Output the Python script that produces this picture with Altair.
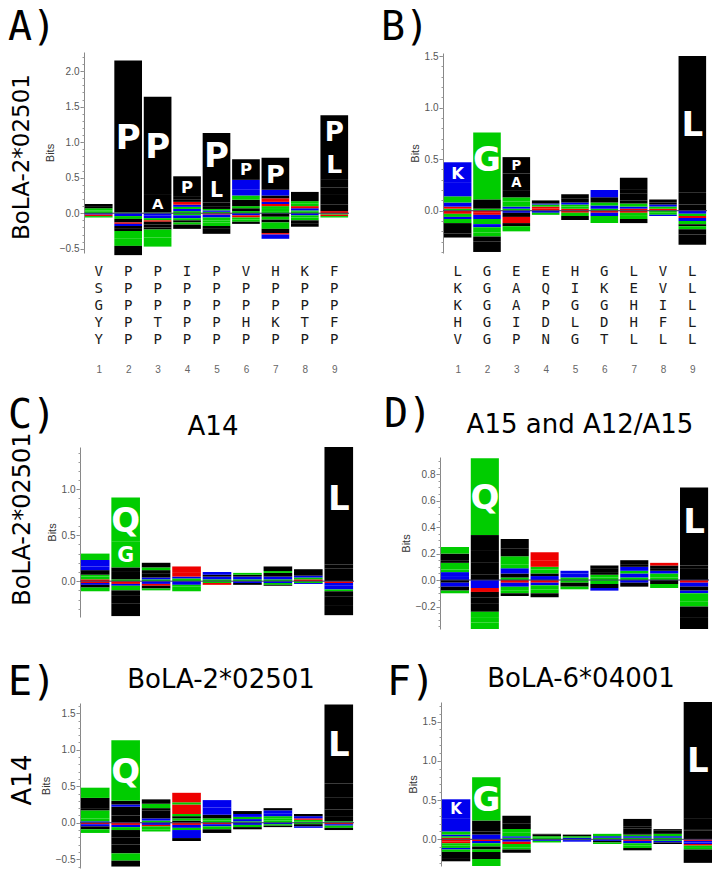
import altair as alt
import pandas as pd
import numpy as np

POS = list(range(1, 10))

# ---------------- logo data (bits); UP: stacked from 0 upward, DOWN: stacked from 0 downward
A_UP = [
    [("S", 0.02), ("T", 0.02), ("G", 0.03), ("L", 0.03), ("I", 0.03)],
    [("S", 0.01), ("P", 2.14)],
    [("S", 0.01), ("A", 0.26), ("P", 1.37)],
    [("G", 0.03), ("K", 0.03), ("T", 0.03), ("H", 0.03), ("E", 0.04), ("I", 0.03), ("L", 0.04), ("P", 0.29)],
    [("S", 0.02), ("K", 0.02), ("G", 0.02), ("V", 0.03), ("I", 0.06), ("L", 0.36), ("P", 0.62)],
    [("T", 0.03), ("I", 0.04), ("G", 0.03), ("V", 0.09), ("Q", 0.06), ("R", 0.08), ("K", 0.14), ("P", 0.29)],
    [("G", 0.03), ("S", 0.03), ("T", 0.04), ("E", 0.03), ("K", 0.03), ("E", 0.05), ("V", 0.04), ("H", 0.08), ("P", 0.45)],
    [("S", 0.02), ("G", 0.02), ("K", 0.03), ("E", 0.03), ("T", 0.04), ("G", 0.03), ("P", 0.13)],
    [("E", 0.03), ("F", 0.09), ("M", 0.15), ("V", 0.09), ("I", 0.12), ("L", 0.44), ("P", 0.46)],
]
A_DOWN = [
    [("K", 0.02), ("E", 0.02), ("S", 0.02)],
    [("K", 0.04), ("T", 0.04), ("V", 0.05), ("E", 0.02), ("H", 0.03), ("I", 0.03), ("L", 0.04), ("S", 0.11), ("G", 0.10), ("A", 0.13)],
    [("K", 0.03), ("H", 0.04), ("T", 0.03), ("E", 0.02), ("V", 0.04), ("I", 0.04), ("L", 0.03), ("G", 0.11), ("S", 0.13)],
    [("S", 0.03), ("K", 0.04), ("G", 0.03), ("V", 0.03), ("T", 0.03), ("Y", 0.06)],
    [("E", 0.02), ("K", 0.04), ("S", 0.04), ("T", 0.03), ("G", 0.05), ("L", 0.03), ("Y", 0.08)],
    [("K", 0.03), ("E", 0.03), ("G", 0.03), ("S", 0.03), ("L", 0.03)],
    [("V", 0.05), ("T", 0.04), ("L", 0.04), ("S", 0.05), ("G", 0.04), ("I", 0.06), ("E", 0.02), ("K", 0.06)],
    [("K", 0.03), ("S", 0.03), ("G", 0.04), ("V", 0.04), ("Y", 0.05)],
    [("G", 0.02), ("E", 0.02), ("S", 0.02)],
]

B_UP = [
    [("T", 0.02), ("E", 0.02), ("H", 0.04), ("S", 0.06), ("R", 0.13), ("K", 0.20)],
    [("T", 0.02), ("P", 0.09), ("Q", 0.14), ("G", 0.51)],
    [("T", 0.02), ("K", 0.02), ("S", 0.05), ("G", 0.04), ("F", 0.07), ("A", 0.16), ("P", 0.16)],
    [("D", 0.02), ("E", 0.02), ("S", 0.02), ("K", 0.01), ("V", 0.03)],
    [("E", 0.02), ("S", 0.02), ("T", 0.02), ("K", 0.02), ("V", 0.04), ("I", 0.04)],
    [("S", 0.02), ("H", 0.03), ("T", 0.03), ("A", 0.05), ("K", 0.07)],
    [("E", 0.02), ("K", 0.02), ("S", 0.03), ("V", 0.03), ("Y", 0.07), ("I", 0.04), ("L", 0.11)],
    [("E", 0.02), ("S", 0.02), ("K", 0.02), ("I", 0.02), ("V", 0.03)],
    [("M", 0.06), ("F", 0.12), ("L", 1.32)],
]
B_DOWN = [
    [("E", 0.03), ("S", 0.03), ("K", 0.02), ("G", 0.04), ("V", 0.10), ("I", 0.04)],
    [("E", 0.02), ("D", 0.02), ("K", 0.04), ("S", 0.05), ("H", 0.03), ("G", 0.05), ("N", 0.04), ("A", 0.05), ("L", 0.10)],
    [("K", 0.02), ("M", 0.04), ("D", 0.02), ("E", 0.04), ("L", 0.03), ("G", 0.05)],
    [("K", 0.02), ("G", 0.02)],
    [("E", 0.02), ("G", 0.03), ("V", 0.04)],
    [("E", 0.02), ("K", 0.03), ("S", 0.03), ("G", 0.04)],
    [("E", 0.02), ("S", 0.03), ("G", 0.03), ("V", 0.04)],
    [("G", 0.02), ("S", 0.02), ("K", 0.01)],
    [("K", 0.03), ("S", 0.02), ("E", 0.02), ("H", 0.03), ("G", 0.03), ("V", 0.02), ("N", 0.03), ("Y", 0.05), ("I", 0.10)],
]

C_UP = [
    [("E", 0.02), ("G", 0.03), ("T", 0.02), ("A", 0.05), ("H", 0.04), ("K", 0.07), ("S", 0.07)],
    [("T", 0.02), ("M", 0.09), ("P", 0.04), ("G", 0.28), ("Q", 0.48)],
    [("S", 0.02), ("K", 0.02), ("Y", 0.04), ("A", 0.04), ("T", 0.03), ("F", 0.05)],
    [("G", 0.03), ("K", 0.02), ("D", 0.04), ("E", 0.07)],
    [("S", 0.02), ("K", 0.03), ("V", 0.02), ("R", 0.03)],
    [("S", 0.02), ("K", 0.03), ("V", 0.02), ("G", 0.02)],
    [("S", 0.02), ("K", 0.03), ("A", 0.04), ("T", 0.02), ("L", 0.05)],
    [("E", 0.02), ("G", 0.02), ("K", 0.02), ("V", 0.04), ("I", 0.03)],
    [("M", 0.14), ("V", 0.04), ("F", 0.17), ("L", 1.11)],
]
C_DOWN = [
    [("E", 0.02), ("K", 0.02), ("L", 0.03), ("G", 0.04)],
    [("E", 0.03), ("H", 0.02), ("S", 0.05), ("V", 0.06), ("A", 0.08), ("L", 0.14)],
    [("K", 0.03), ("E", 0.02), ("V", 0.03), ("G", 0.02)],
    [("K", 0.04), ("S", 0.02), ("G", 0.05)],
    [("G", 0.02), ("E", 0.02)],
    [("K", 0.02), ("V", 0.02)],
    [("K", 0.02), ("G", 0.02), ("V", 0.01)],
    [("S", 0.02), ("K", 0.01)],
    [("E", 0.02), ("K", 0.03), ("H", 0.04), ("S", 0.02), ("V", 0.06), ("Y", 0.09), ("I", 0.11)],
]

D_UP = [
    [("K", 0.03), ("H", 0.03), ("T", 0.02), ("G", 0.05), ("V", 0.02), ("A", 0.05), ("S", 0.05)],
    [("M", 0.04), ("P", 0.09), ("V", 0.09), ("L", 0.12), ("Q", 0.58)],
    [("S", 0.02), ("M", 0.03), ("K", 0.04), ("T", 0.03), ("Q", 0.06), ("A", 0.06), ("F", 0.07)],
    [("K", 0.03), ("L", 0.02), ("G", 0.03), ("S", 0.02), ("D", 0.05), ("E", 0.06)],
    [("S", 0.02), ("K", 0.03), ("R", 0.02)],
    [("G", 0.02), ("S", 0.02), ("V", 0.02), ("L", 0.03), ("I", 0.02)],
    [("S", 0.02), ("K", 0.03), ("G", 0.02), ("H", 0.03), ("V", 0.02), ("L", 0.03)],
    [("S", 0.02), ("G", 0.03), ("K", 0.02), ("V", 0.02), ("I", 0.02), ("E", 0.02)],
    [("M", 0.09), ("V", 0.02), ("F", 0.08), ("L", 0.51)],
]
D_DOWN = [
    [("L", 0.02), ("K", 0.03), ("V", 0.03), ("G", 0.02)],
    [("K", 0.03), ("H", 0.03), ("E", 0.03), ("V", 0.04), ("I", 0.05), ("A", 0.06), ("T", 0.04), ("G", 0.04), ("S", 0.05)],
    [("E", 0.02), ("K", 0.03), ("G", 0.03), ("S", 0.02), ("V", 0.02)],
    [("E", 0.02), ("K", 0.02), ("G", 0.03), ("S", 0.03), ("V", 0.03)],
    [("G", 0.02), ("V", 0.03), ("S", 0.02)],
    [("G", 0.03), ("V", 0.03), ("K", 0.02)],
    [("K", 0.02), ("V", 0.03)],
    [("V", 0.03), ("G", 0.03)],
    [("E", 0.02), ("K", 0.03), ("V", 0.03), ("H", 0.02), ("S", 0.06), ("G", 0.04), ("I", 0.08), ("Y", 0.09)],
]

E_UP = [
    [("K", 0.02), ("T", 0.04), ("G", 0.11), ("V", 0.02), ("A", 0.15), ("S", 0.14)],
    [("M", 0.10), ("P", 0.12), ("K", 0.03), ("V", 0.05), ("Q", 0.83)],
    [("S", 0.03), ("K", 0.03), ("A", 0.06), ("I", 0.05), ("L", 0.03), ("Q", 0.06), ("F", 0.06)],
    [("I", 0.03), ("S", 0.03), ("L", 0.03), ("G", 0.03), ("D", 0.13), ("N", 0.03), ("E", 0.13)],
    [("S", 0.03), ("G", 0.03), ("V", 0.05), ("K", 0.10), ("R", 0.10)],
    [("S", 0.02), ("K", 0.03), ("G", 0.03), ("H", 0.04), ("V", 0.04)],
    [("S", 0.03), ("G", 0.03), ("T", 0.03), ("H", 0.04), ("K", 0.04), ("L", 0.03)],
    [("S", 0.02), ("G", 0.02), ("E", 0.02), ("K", 0.03), ("V", 0.03)],
    [("T", 0.02), ("F", 0.06), ("I", 0.10), ("Y", 0.09), ("V", 0.08), ("M", 0.19), ("L", 1.08)],
]
E_DOWN = [
    [("E", 0.02), ("K", 0.03), ("L", 0.04), ("G", 0.05)],
    [("E", 0.03), ("K", 0.03), ("S", 0.04), ("I", 0.10), ("V", 0.10), ("L", 0.12), ("S", 0.10), ("A", 0.08)],
    [("K", 0.03), ("E", 0.02), ("G", 0.04), ("S", 0.03)],
    [("E", 0.03), ("K", 0.04), ("G", 0.03), ("R", 0.11), ("I", 0.04)],
    [("E", 0.02), ("K", 0.03), ("G", 0.04), ("L", 0.05)],
    [("K", 0.03), ("G", 0.03), ("V", 0.03)],
    [("K", 0.02), ("G", 0.02), ("V", 0.02)],
    [("G", 0.02), ("V", 0.03), ("K", 0.02)],
    [("E", 0.02), ("K", 0.02), ("G", 0.03), ("V", 0.03)],
]

F_UP = [
    [("E", 0.02), ("T", 0.02), ("K", 0.02), ("S", 0.04), ("R", 0.17), ("K", 0.24)],
    [("K", 0.03), ("H", 0.03), ("P", 0.04), ("L", 0.14), ("G", 0.55)],
    [("T", 0.02), ("K", 0.02), ("S", 0.05), ("G", 0.04), ("A", 0.07), ("P", 0.10)],
    [("G", 0.02), ("S", 0.02), ("V", 0.02), ("I", 0.01)],
    [("K", 0.02), ("S", 0.02), ("V", 0.02)],
    [("S", 0.02), ("K", 0.02), ("G", 0.03)],
    [("S", 0.02), ("K", 0.02), ("G", 0.02), ("I", 0.02), ("Y", 0.06), ("V", 0.02), ("L", 0.10)],
    [("S", 0.02), ("K", 0.02), ("G", 0.03), ("V", 0.04), ("I", 0.02)],
    [("M", 0.11), ("V", 0.02), ("F", 0.14), ("L", 1.48)],
]
F_DOWN = [
    [("D", 0.03), ("E", 0.02), ("S", 0.03), ("G", 0.03), ("H", 0.02), ("N", 0.03), ("V", 0.09), ("A", 0.03)],
    [("E", 0.02), ("K", 0.03), ("G", 0.04), ("V", 0.04), ("N", 0.03), ("A", 0.09), ("S", 0.09)],
    [("K", 0.03), ("E", 0.03), ("G", 0.04), ("S", 0.03), ("V", 0.04)],
    [("K", 0.02), ("G", 0.02)],
    [("G", 0.01), ("K", 0.02)],
    [("K", 0.02), ("V", 0.02), ("G", 0.02)],
    [("E", 0.02), ("K", 0.03), ("G", 0.03), ("S", 0.03), ("V", 0.03)],
    [("G", 0.02), ("K", 0.02), ("V", 0.02)],
    [("E", 0.02), ("K", 0.02), ("H", 0.02), ("D", 0.02), ("S", 0.03), ("G", 0.02), ("Y", 0.07), ("I", 0.10)],
]

# peptide sequences listed under panels A and B (5 per position)
SEQ_A = ["VSGYY", "PPPPP", "PPPTP", "IPPPP", "PPPPP", "VPPHP", "HPPKP", "KPPTP", "FPPFP"]
SEQ_B = ["LKKHV", "GGGGG", "EAAIP", "EQPDN", "HIGLG", "GKGDT", "LEHHL", "VVIFL", "LLLLL"]

PANEL_TAGS = ["A)", "B)", "C)", "D)", "E)", "F)"]
TITLES = ["A14", "A15 and A12/A15", "BoLA-2*02501", "BoLA-6*04001"]
ROW_LABELS = ["BoLA-2*02501", "BoLA-2*02501", "A14"]

# residue colour classes
AA_ORDER = list("AVLIPFMWYC") + list("GSTQN") + list("KRH") + list("DE")
AA_COLS = ["#000000"] * 10 + ["#00cc00"] * 5 + ["#0000ee"] * 3 + ["#ee0000"] * 2
COLOR_SCALE = alt.Scale(domain=AA_ORDER, range=AA_COLS)

W, H = 704, 870
OFF = 8  # page margin

# panel geometry in page pixels
GEO = {
    "A": dict(x0=84, x1=349, yb=253, yt=52, lo=-0.56, hi=2.27, major=[-0.5, 0, 0.5, 1.0, 1.5, 2.0], minor=0.1),
    "B": dict(x0=443, x1=707, yb=253, yt=53, lo=-0.41, hi=1.53, major=[0, 0.5, 1.0, 1.5], minor=0.1),
    "C": dict(x0=80, x1=354, yb=617, yt=447, lo=-0.39, hi=1.46, major=[0, 0.5, 1.0], minor=0.1),
    "D": dict(x0=440, x1=709, yb=629, yt=457, lo=-0.37, hi=0.93, major=[-0.2, 0, 0.2, 0.4, 0.6, 0.8], minor=0.05),
    "E": dict(x0=80, x1=354, yb=868, yt=703, lo=-0.62, hi=1.64, major=[-0.5, 0, 0.5, 1.0, 1.5], minor=0.1),
    "F": dict(x0=441, x1=713, yb=866, yt=702, lo=-0.34, hi=1.75, major=[0, 0.5, 1.0, 1.5], minor=0.1),
}

AX_FONT = "Liberation Sans"


def xscale(g):
    return alt.Scale(domain=[0.5, 9.5], range=[g["x0"] - OFF, g["x1"] - OFF], nice=False, zero=False)


def yscale(g):
    return alt.Scale(domain=[g["lo"], g["hi"]], range=[g["yb"] - OFF, g["yt"] - OFF], nice=False, zero=False)


def num_axis(axis_y_page):
    return alt.Axis(orient="bottom", offset=(axis_y_page - OFF) - H, values=POS, format="d", title=None,
                    domain=False, ticks=False, tickSize=0, labelPadding=1, grid=False,
                    labelFont=AX_FONT, labelFontSize=10, labelColor="#666")


def panel(up, down, g, show_x):
    ppu = (g["yb"] - g["yt"]) / (g["hi"] - g["lo"])
    rows = []
    for p, u, d in zip(POS, up, down):
        base = 0.0
        for aa, h in u:
            rows.append((p, aa, base, base + h))
            base += h
        base = 0.0
        for aa, h in d:
            rows.append((p, aa, base - h, base))
            base -= h
    df = pd.DataFrame(rows, columns=["pos", "aa", "y0", "y1"])
    df["xl"] = df["pos"] - 0.47
    df["xr"] = df["pos"] + 0.47
    df["hpx"] = (df["y1"] - df["y0"]) * ppu
    big = df[df["hpx"] >= 16].copy()
    big["fs"] = (big["hpx"] * 0.8).clip(upper=34)
    big["yt"] = (big["y0"] + big["y1"]) / 2 - 0.36 * big["fs"] / ppu

    xs, ys = xscale(g), yscale(g)
    major = alt.Axis(orient="left", offset=-(g["x0"] - OFF), values=g["major"], format=".1f",
                     title="Bits", titleFont=AX_FONT, titleFontSize=11, titleFontWeight="normal",
                     titleColor="#333", titlePadding=4, labelFont=AX_FONT, labelFontSize=10,
                     labelColor="#555", labelPadding=1, tickSize=4, tickColor="#888",
                     domainColor="#888", grid=False)
    step = g["minor"]
    mvals = [round(v, 3) for v in np.arange(np.ceil(g["lo"] / step) * step, g["hi"] + 1e-9, step)]
    minor = alt.Axis(orient="left", offset=-(g["x0"] - OFF), values=mvals, labels=False, domain=False,
                     title=None, tickSize=2, tickColor="#999", grid=False)
    xaxis = num_axis(g["yb"]) if show_x else None

    rect = alt.Chart(df).mark_rect(strokeWidth=0).encode(
        x=alt.X("xl:Q", scale=xs, axis=xaxis),
        x2="xr:Q",
        y=alt.Y("y0:Q", scale=ys, axis=major),
        y2="y1:Q",
        color=alt.Color("aa:N", scale=COLOR_SCALE, legend=None),
    )
    letters = alt.Chart(big).mark_text(font="DejaVu Sans", fontWeight="bold", color="white",
                                       align="center", baseline="alphabetic").encode(
        x=alt.X("pos:Q", scale=xs, axis=None),
        y=alt.Y("yt:Q", scale=ys, axis=minor),
        text="aa:N",
        size=alt.Size("fs:Q", scale=None),
    )
    zero = alt.Chart(pd.DataFrame({"a": [0.5], "b": [9.5], "z": [0.0]})).mark_rule(
        color="#3a3a66", strokeWidth=1).encode(
        x=alt.X("a:Q", scale=xs, axis=None), x2="b:Q",
        y=alt.Y("z:Q", scale=ys, axis=None),
    )
    return alt.layer(rect, zero, letters).resolve_axis(y="independent")


def seq_layer(seqs, g):
    rows = [(p, r, s[r]) for p, s in zip(POS, seqs) for r in range(5)]
    df = pd.DataFrame(rows, columns=["pos", "row", "aa"])
    return alt.Chart(df).mark_text(font="DejaVu Sans Mono", fontSize=14, color="#1a1a1a",
                                   baseline="middle", align="center").encode(
        x=alt.X("pos:Q", scale=xscale(g), axis=num_axis(363.5)),
        y=alt.Y("row:Q", scale=alt.Scale(domain=[0, 4], range=[271.5 - OFF, 339.5 - OFF],
                                          nice=False, zero=False), axis=None),
        text="aa:N",
    )


def note(text, x, y, size, font="DejaVu Sans", angle=0, align="center", baseline="alphabetic"):
    return alt.Chart(pd.DataFrame({"t": [text]})).mark_text(
        font=font, fontSize=size, angle=angle, align=align, baseline=baseline, color="black"
    ).encode(text="t:N", x=alt.value(x), y=alt.value(y))


layers = [
    panel(A_UP, A_DOWN, GEO["A"], False),
    panel(B_UP, B_DOWN, GEO["B"], False),
    seq_layer(SEQ_A, GEO["A"]),
    seq_layer(SEQ_B, GEO["B"]),
    panel(C_UP, C_DOWN, GEO["C"], True),
    panel(D_UP, D_DOWN, GEO["D"], True),
    panel(E_UP, E_DOWN, GEO["E"], True),
    panel(F_UP, F_DOWN, GEO["F"], True),
]

mono = "DejaVu Sans Mono"
# (x, y, baseline) for each panel tag
tag_pos = [(0, 0, "top"), (373, 0, "top"), (0, 420, "alphabetic"), (376, 419, "alphabetic"),
           (0, 687, "alphabetic"), (379, 687, "alphabetic")]
for t, (x, y, b) in zip(PANEL_TAGS, tag_pos):
    layers.append(note(t, x, y, 40, font=mono, align="left", baseline=b))

title_pos = [(205, 427), (572, 425), (213, 680), (573, 679)]
for t, (x, y) in zip(TITLES, title_pos):
    layers.append(note(t, x, y, 26))

row_pos = [(21, 149, 23), (22, 511, 24), (23, 772, 26)]
for t, (x, y, s) in zip(ROW_LABELS, row_pos):
    layers.append(note(t, x, y, s, angle=270))

chart = alt.layer(*layers).resolve_scale(x="independent", y="independent").properties(
    width=W, height=H, autosize=alt.AutoSizeParams(type="none"), padding=0
).configure_view(stroke=None)

chart.save("out.html", embed_options={"renderer": "svg", "actions": False})
